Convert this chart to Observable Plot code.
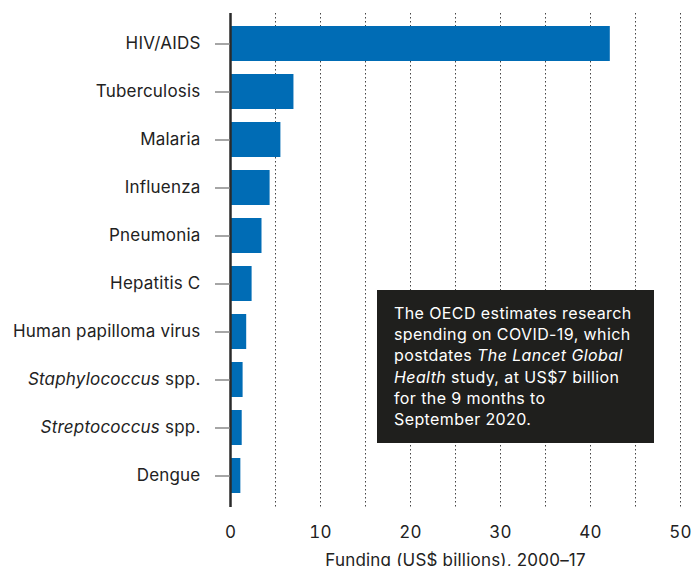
<!DOCTYPE html>
<html>
<head>
<meta charset="utf-8">
<script src="https://cdn.jsdelivr.net/npm/d3@7"></script>
<script src="https://cdn.jsdelivr.net/npm/@observablehq/plot@0.6"></script>
<style>
  html, body { margin: 0; padding: 0; background: #fff; }
  #wrap { position: relative; width: 697px; height: 566px; overflow: hidden; font-family: Inter, "Noto Sans", sans-serif; }
  #note {
    position: absolute; left: 377px; top: 290px; width: 277px; height: 153px;
    box-sizing: border-box; padding: 13px 4px 0 17px; white-space: nowrap;
    background: #1f1f1d; color: #fff; font-size: 16px; line-height: 21.2px; letter-spacing: 0.4px;
  }
  svg text { letter-spacing: 0.2px; }
</style>
</head>
<body>
<div id="wrap"><div id="note">The OECD estimates research<br>spending on COVID-19, which<br>postdates <i>The Lancet Global</i><br><i>Health</i> study, at US$7 billion<br>for the 9 months to<br>September 2020.</div></div>
<script>
const diseases = ["HIV/AIDS", "Tuberculosis", "Malaria", "Influenza", "Pneumonia", "Hepatitis C",
  "Human papilloma virus", "Staphylococcus spp.", "Streptococcus spp.", "Dengue"];
const funding = [42.2, 7.05, 5.6, 4.4, 3.5, 2.4, 1.8, 1.4, 1.3, 1.15];
const xTicks = [0, 10, 20, 30, 40, 50];
const gridTicks = [5, 10, 15, 20, 25, 30, 35, 40, 45, 50];

const data = diseases.map((d, i) => ({disease: d, value: funding[i]}));

const chart = Plot.plot({
  width: 697,
  height: 566,
  marginLeft: 230,
  marginRight: 17,
  marginTop: 13,
  marginBottom: 59,
  style: {fontFamily: "Inter, 'Noto Sans', sans-serif", fontSize: "17px", color: "#222", background: "transparent"},
  x: {domain: [0, 50], ticks: xTicks, tickSize: 0, tickPadding: 18, label: "Funding (US$ billions), 2000–17", labelAnchor: "center", labelArrow: "none", labelOffset: 58},
  y: {domain: diseases, padding: 0.27, tickSize: 15, tickPadding: 15, label: null},
  marks: [
    Plot.ruleX(gridTicks, {stroke: "#444", strokeWidth: 1, strokeDasharray: "1.5,2.5"}),
    Plot.barX(data, {x: "value", y: "disease", fill: "#006cb5"}),
    Plot.ruleX([0], {stroke: "#2a2a2a", strokeWidth: 2.5}),
    Plot.axisY({tickSize: 15, tickPadding: 15, stroke: "#888", strokeWidth: 1.5, fontSize: 17, label: null}),
    Plot.axisX({ticks: xTicks, tickSize: 0, tickPadding: 18, fontSize: 17, label: "Funding (US$ billions), 2000–17", labelAnchor: "center", labelArrow: "none", labelOffset: 58})
  ]
});

const wrap = document.getElementById("wrap");
wrap.insertBefore(chart, wrap.firstChild);

// italicise genus names in tick labels
d3.select(chart).selectAll("text").each(function() {
  const t = d3.select(this);
  const s = t.text();
  const m = s.match(/^(\S+)( spp\.)$/);
  if (m) {
    t.text("");
    t.append("tspan").attr("font-style", "italic").text(m[1]);
    t.append("tspan").text(m[2]);
  }
});
</script>
</body>
</html>
